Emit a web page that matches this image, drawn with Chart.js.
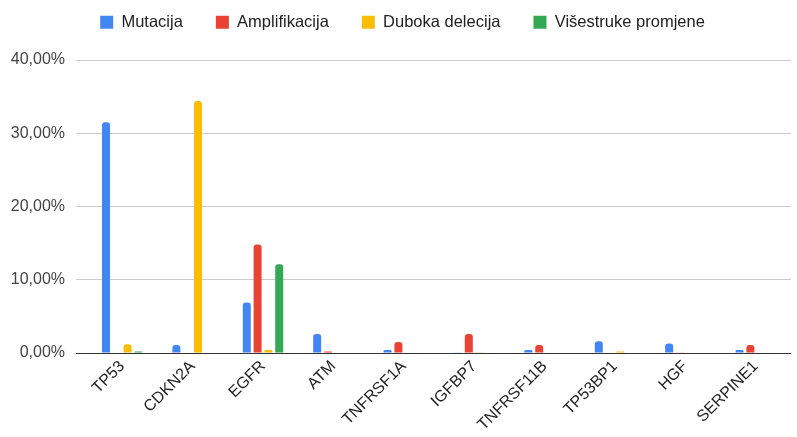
<!DOCTYPE html>
<html>
<head>
<meta charset="utf-8">
<script src="https://cdn.jsdelivr.net/npm/chart.js@4.4.1/dist/chart.umd.min.js"></script>
<style>
  html, body { margin: 0; padding: 0; background: #fff; }
  #wrap { width: 797px; height: 437px; }
</style>
</head>
<body>
<div id="wrap"><canvas id="chart"></canvas></div>
<script>
// podaci
const geni = ['TP53', 'CDKN2A', 'EGFR', 'ATM', 'TNFRSF1A', 'IGFBP7', 'TNFRSF11B', 'TP53BP1', 'HGF', 'SERPINE1'];
const mutacija = [31.5, 1.1, 6.9, 2.6, 0.4, 0.05, 0.4, 1.6, 1.3, 0.4];
const amplifikacija = [0, 0, 14.8, 0.2, 1.5, 2.6, 1.1, 0, 0.05, 1.1];
const dubokaDelecija = [1.2, 34.4, 0.4, 0, 0, 0.1, 0, 0.2, 0, 0];
const visestruke = [0.2, 0, 12.1, 0, 0, 0, 0, 0, 0, 0];
const yTicks = [0, 10, 20, 30, 40];

const font = "'Liberation Sans', Arial, sans-serif";

function serija(label, data, color) {
  return {
    label: label,
    data: data,
    backgroundColor: color,
    borderRadius: { topLeft: 3, topRight: 3 },
    borderSkipped: 'start',
    categoryPercentage: 0.614,
    barPercentage: 0.74,
  };
}

// legenda zauzima fiksnu visinu da plot krene na y=60, malo pomaknuta udesno
const legendHeight = {
  id: 'legendHeight',
  beforeInit(chart) {
    const fit = chart.legend.fit;
    chart.legend.fit = function () {
      fit.bind(chart.legend)();
      this.height = 79;
    };
  },
  afterLayout(chart) {
    chart.legend.left += 7;
    chart.legend.right += 7;
  }
};

const ctx = document.getElementById('chart').getContext('2d');
const chart = new Chart(ctx, {
  type: 'bar',
  data: {
    labels: geni,
    datasets: [
      serija('Mutacija', mutacija, '#4285F4'),
      serija('Amplifikacija', amplifikacija, '#EA4335'),
      serija('Duboka delecija', dubokaDelecija, '#FBBC04'),
      serija('Višestruke promjene', visestruke, '#34A853'),
    ]
  },
  options: {
    responsive: true,
    maintainAspectRatio: false,
    animation: false,
    layout: { padding: { left: 0, right: 6, top: -19, bottom: 0 } },
    scales: {
      x: {
        grid: { display: false },
        border: { display: false },
        ticks: {
          maxRotation: 45,
          minRotation: 45,
          autoSkip: false,
          color: '#222',
          font: { family: font, size: 16 },
          padding: -4,
        },
        afterFit(scale) { scale.height = 84; }
      },
      y: {
        min: 0,
        max: 40,
        afterBuildTicks(scale) { scale.ticks = yTicks.map(v => ({ value: v })); },
        border: { display: false },
        grid: {
          color: c => c.tick && c.tick.value === 0 ? '#333' : '#ccc',
          lineWidth: 1,
          drawTicks: true,
          tickLength: 11,
        },
        ticks: {
          color: '#444',
          padding: 11,
          font: { family: font, size: 16 },
          callback: v => v.toFixed(2).replace('.', ',') + '%'
        },
        afterFit(scale) { scale.width = 87; }
      }
    },
    plugins: {
      legend: {
        position: 'top',
        labels: {
          boxWidth: 13,
          boxHeight: 13,
          padding: 33,
          color: '#222',
          font: { family: font, size: 16.5 }
        }
      },
      tooltip: { enabled: false }
    }
  },
  plugins: [legendHeight]
});
</script>
</body>
</html>
